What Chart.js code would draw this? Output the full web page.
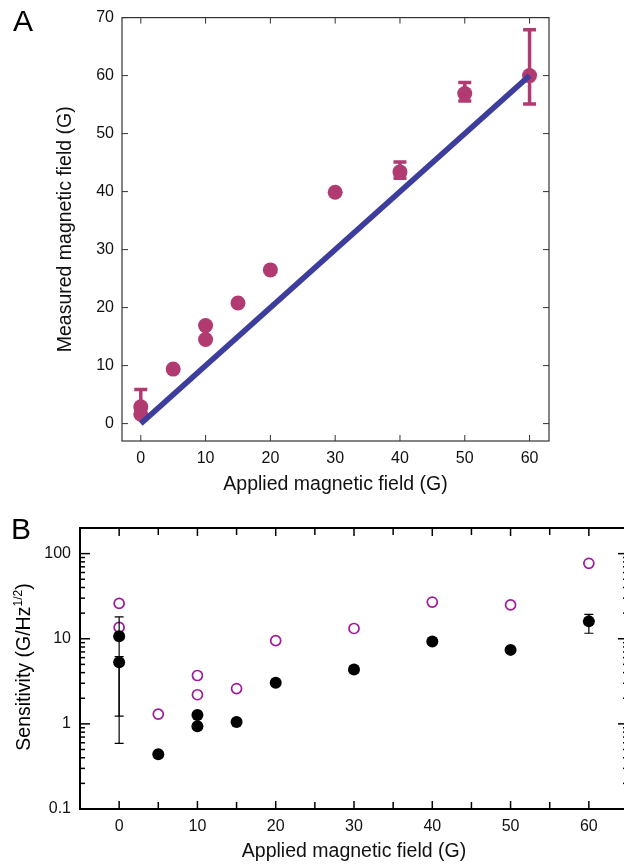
<!DOCTYPE html>
<html>
<head>
<meta charset="utf-8">
<script src="https://cdn.jsdelivr.net/npm/chart.js@4.4.1/dist/chart.umd.min.js"></script>
<style>
  html, body { margin:0; padding:0; overflow:hidden; background:#fff; width:624px; height:865px; }
  #wrap { position:relative; width:624px; height:865px; overflow:hidden; font-family:"Liberation Sans", Arial, Helvetica, sans-serif; color:#000; }
  #cA { position:absolute; left:0; top:0; }
  #cB { position:absolute; left:0; top:500px; }
  .panel { position:absolute; font-size:30px; line-height:30px; }
  #ytB { position:absolute; width:300px; left:-127px; top:655px; height:24px; line-height:24px; text-align:center; font-size:19.5px; transform:rotate(-90deg); transform-origin:150px 12px; white-space:nowrap; }
  #ytB sup { font-size:12px; vertical-align:0; position:relative; top:-8px; }
</style>
</head>
<body>
<div id="wrap">
  <canvas id="cA" width="624" height="500"></canvas>
  <canvas id="cB" width="640" height="365"></canvas>
  <div class="panel" style="left:13px; top:6px;">A</div>
  <div class="panel" style="left:11px; top:514px;">B</div>
  <div id="ytB">Sensitivity (G/Hz<sup>1/2</sup>)</div>
</div>
<script>
// ---------- Panel A data ----------
const appliedA   = [0, 0, 5, 10, 10, 15, 20, 30, 40, 50, 60];
const measuredA  = [1.6, 2.9, 9.4, 14.5, 16.9, 20.8, 26.5, 39.9, 43.4, 56.9, 60.0];
const errLowA    = [null, 1.5, null, null, null, null, null, null, 42.3, 55.6, 55.1];
const errHighA   = [null, 5.9, null, null, null, null, null, null, 45.1, 58.8, 67.9];
const fitX       = [0, 60];
const fitY       = [0, 60];
const xTicksA    = [0, 10, 20, 30, 40, 50, 60];
const yTicksA    = [0, 10, 20, 30, 40, 50, 60, 70];

// ---------- Panel B data ----------
const appliedB   = [0, 0, 5, 10, 10, 15, 20, 30, 40, 50, 60];
const sensFilled = [10.7, 5.3, 0.44, 1.27, 0.94, 1.05, 3.05, 4.35, 9.3, 7.4, 16.0];
const errLowB    = [1.23, 0.59, null, null, null, null, null, null, null, 6.8, 11.6];
const errHighB   = [18.1, 6.15, null, null, null, null, null, null, null, 8.1, 19.3];
const appliedOpen= [0, 0, 5, 10, 10, 15, 20, 30, 40, 50, 60];
const sensOpen   = [26, 13.6, 1.3, 3.7, 2.2, 2.6, 9.5, 13.2, 27, 25, 77];
const xTicksB    = [0, 10, 20, 30, 40, 50, 60];
const xMinorB    = [5, 15, 25, 35, 45, 55];
const yTicksB    = [0.1, 1, 10, 100];
const yMinorB    = [0.2,0.3,0.4,0.5,0.6,0.7,0.8,0.9, 2,3,4,5,6,7,8,9, 20,30,40,50,60,70,80,90, 200];

const FONT = '"Liberation Sans", Arial, Helvetica, sans-serif';

const frameTicks = {
  id: 'frameTicks',
  afterDraw(chart, args, o) {
    const {ctx, chartArea: {left, right, top, bottom}, scales: {x, y}} = chart;
    ctx.save();
    ctx.strokeStyle = o.color;
    ctx.lineWidth = o.tickWidth;
    const seg = (x1, y1, x2, y2) => { ctx.beginPath(); ctx.moveTo(x1, y1); ctx.lineTo(x2, y2); ctx.stroke(); };
    for (const t of o.xTicks) {
      const px = x.getPixelForValue(t.v);
      seg(px, bottom, px, bottom - t.len);
      seg(px, top, px, top + t.len);
    }
    for (const t of o.yTicks) {
      const py = y.getPixelForValue(t.v);
      if (py < top - 0.5 || py > bottom + 0.5) continue;
      seg(left, py, left + t.len, py);
      seg(right, py, right - t.len, py);
    }
    ctx.lineWidth = o.frameWidth;
    ctx.strokeRect(left, top, right - left, bottom - top);
    ctx.restore();
  }
};

function drawErr(chart, o) {
  const {ctx, scales: {x, y}} = chart;
  ctx.save();
  ctx.strokeStyle = o.color;
  ctx.lineWidth = o.width;
  ctx.lineCap = 'butt';
  for (let i = 0; i < o.xs.length; i++) {
    if (o.low[i] == null) continue;
    const px = x.getPixelForValue(o.xs[i]);
    const pl = y.getPixelForValue(o.low[i]);
    const ph = y.getPixelForValue(o.high[i]);
    ctx.beginPath();
    ctx.moveTo(px, pl); ctx.lineTo(px, ph);
    ctx.moveTo(px - o.cap / 2, pl); ctx.lineTo(px + o.cap / 2, pl);
    ctx.moveTo(px - o.cap / 2, ph); ctx.lineTo(px + o.cap / 2, ph);
    ctx.stroke();
  }
  ctx.restore();
}
const errorBars = {
  id: 'errorBars',
  beforeDatasetsDraw(chart, args, o) { if (o.layer === 'under') drawErr(chart, o); },
  afterDatasetsDraw(chart, args, o) { if (o.layer === 'over') drawErr(chart, o); }
};

const pts = (xs, ys) => xs.map((v, i) => ({x: v, y: ys[i]}));

// ---------- Chart A ----------
new Chart(document.getElementById('cA'), {
  type: 'scatter',
  data: {
    datasets: [
      { type: 'line', data: pts(fitX, fitY), borderColor: '#3d3d9e', borderWidth: 5.5, pointRadius: 0, fill: false, tension: 0 },
      { data: pts(appliedA, measuredA), backgroundColor: '#b13b71', borderWidth: 0, pointRadius: 7.5, pointHoverRadius: 7.5 }
    ]
  },
  plugins: [errorBars, frameTicks],
  options: {
    responsive: false, animation: false,
    layout: { padding: { left: 0, right: 75, top: 14, bottom: 0 } },
    plugins: {
      legend: { display: false }, tooltip: { enabled: false },
      errorBars: { layer: 'under', xs: appliedA, low: errLowA, high: errHighA, color: '#b13b71', width: 3.5, cap: 13 },
      frameTicks: { color: '#333', tickWidth: 1, frameWidth: 1.2,
        xTicks: xTicksA.map(v => ({v, len: 6})), yTicks: yTicksA.map(v => ({v, len: 6})) }
    },
    scales: {
      x: {
        type: 'linear', min: -2.9, max: 63,
        afterBuildTicks: s => { s.ticks = xTicksA.map(v => ({value: v})); },
        afterFit: s => { s.height = 59; },
        grid: { display: false, drawTicks: false }, border: { display: false },
        ticks: { padding: 8, color: '#111', font: { family: FONT, size: 16 }, maxRotation: 0 },
        title: { display: true, text: 'Applied magnetic field (G)', color: '#111', font: { family: FONT, size: 19.5 }, padding: { top: 0, bottom: 4 } }
      },
      y: {
        type: 'linear', min: -3, max: 70,
        afterBuildTicks: s => { s.ticks = yTicksA.map(v => ({value: v})); },
        afterFit: s => { s.width = 122; },
        grid: { display: false, drawTicks: false }, border: { display: false },
        ticks: { padding: 8, color: '#111', font: { family: FONT, size: 16 } },
        title: { display: true, text: 'Measured magnetic field (G)', color: '#111', font: { family: FONT, size: 19.5 }, padding: { top: 54, bottom: 0 } }
      }
    }
  }
});

// ---------- Chart B ----------
new Chart(document.getElementById('cB'), {
  type: 'scatter',
  data: {
    datasets: [
      { data: pts(appliedB, sensFilled), backgroundColor: '#000', borderWidth: 0, pointRadius: 6, pointHoverRadius: 6 },
      { data: pts(appliedOpen, sensOpen), backgroundColor: 'rgba(0,0,0,0)', borderColor: '#a0189c', borderWidth: 1.7, pointRadius: 5, pointHoverRadius: 5 }
    ]
  },
  plugins: [errorBars, frameTicks],
  options: {
    responsive: false, animation: false,
    layout: { padding: { left: 0, right: 12, top: 28, bottom: 0 } },
    plugins: {
      legend: { display: false }, tooltip: { enabled: false },
      errorBars: { layer: 'over', xs: appliedB, low: errLowB, high: errHighB, color: '#000', width: 1.2, cap: 9 },
      frameTicks: { color: '#000', tickWidth: 1.5, frameWidth: 2,
        xTicks: xTicksB.map(v => ({v, len: 8})).concat(xMinorB.map(v => ({v, len: 7}))),
        yTicks: yTicksB.map(v => ({v, len: 10})).concat(yMinorB.map(v => ({v, len: 5}))) }
    },
    scales: {
      x: {
        type: 'linear', min: -5, max: 65,
        afterBuildTicks: s => { s.ticks = xTicksB.map(v => ({value: v})); },
        afterFit: s => { s.height = 56; },
        grid: { display: false, drawTicks: false }, border: { display: false },
        ticks: { padding: 8, color: '#111', font: { family: FONT, size: 16 }, maxRotation: 0 },
        title: { display: true, text: 'Applied magnetic field (G)', color: '#111', font: { family: FONT, size: 19.5 }, padding: { top: 0, bottom: 1.3 } }
      },
      y: {
        type: 'logarithmic', min: 0.1, max: 200,
        afterBuildTicks: s => { s.ticks = yTicksB.map(v => ({value: v})); },
        afterFit: s => { s.width = 80; },
        grid: { display: false, drawTicks: false }, border: { display: false },
        ticks: { padding: 9, color: '#111', font: { family: FONT, size: 16 }, callback: v => String(v) }
      }
    }
  }
});
</script>
</body>
</html>
